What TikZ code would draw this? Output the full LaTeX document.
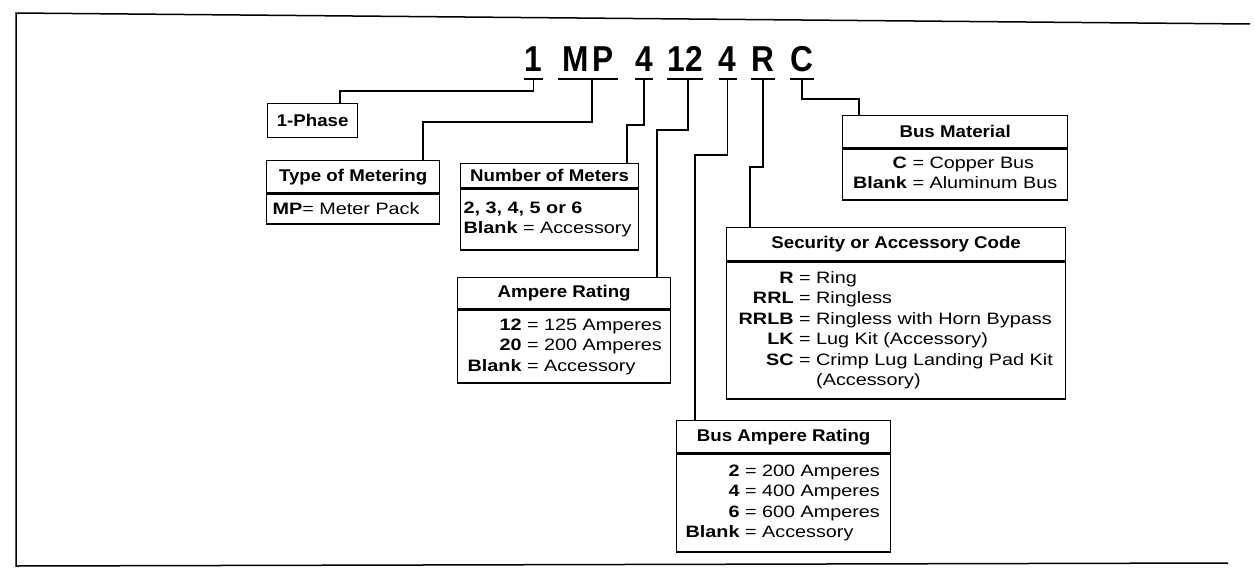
\documentclass[tikz,border=0pt]{standalone}
\usepackage{fontspec}
\setmainfont{Liberation Sans}
\newfontfamily\titlefont[FakeStretch=1.1]{Liberation Sans}
\newfontfamily\bodyfont[FakeStretch=1.2]{Liberation Sans}
\newfontfamily\codefont[FakeStretch=0.88]{Liberation Sans}
\begin{document}
\begin{tikzpicture}[x=1pt,y=-1pt,
  ttl/.style={draw,line width=1.3pt,inner sep=0pt,anchor=north west,
    font=\titlefont\fontsize{17}{20}\selectfont\bfseries},
  bdy/.style={draw,line width=1.3pt,inner ysep=0pt,anchor=north west,align=left,
    font=\bodyfont\fontsize{16.5}{20.5}\selectfont},
  codech/.style={font=\codefont\fontsize{36}{40}\selectfont\bfseries,
    inner xsep=0pt,inner ysep=7pt,anchor=south,text height=25pt,text depth=0pt},
  uline/.style={line width=2.2pt},
  conn/.style={line width=1.4pt},
  frame/.style={line width=1.5pt}]
\useasboundingbox (0,0) rectangle (1255,586);

% frame
\draw[frame] (1250,24) -- (16,13) -- (16,566) -- (1228,563);

% code characters
\node[codech,minimum width=17] (c1)  at (533.5,79) {1};
\node[codech,minimum width=60] (cMP) at (588,79) {M\hspace{4pt}P};
\node[codech,minimum width=18] (c4a) at (644,79) {4};
\node[codech,minimum width=34] (c12) at (685,79) {12};
\node[codech,minimum width=16] (c4b) at (727.5,79) {4};
\node[codech,minimum width=20] (cR)  at (763,79) {R};
\node[codech,minimum width=20] (cC)  at (802,79) {C};
\foreach \n in {c1,cMP,c4a,c12,c4b,cR,cC}
  \draw[uline] (\n.south west) -- (\n.south east);

% boxes
\node[ttl,minimum width=90,minimum height=34] (phase) at (267,103) {1-Phase};

\node[ttl,minimum width=173,minimum height=32] (tom) at (266,160) {Type of Metering};
\node[bdy,inner xsep=6pt,text width=161pt,minimum height=30] (tomb) at (tom.south west)
  {\textbf{MP}= Meter Pack};

\node[ttl,minimum width=178,minimum height=24] (nom) at (460,163) {Number of Meters};
\node[bdy,inner xsep=3pt,text width=172pt,minimum height=61] (nomb) at (nom.south west)
  {\textbf{2, 3, 4, 5 or 6}\\\textbf{Blank} = Accessory};

\node[ttl,minimum width=213,minimum height=31] (amp) at (457,277) {Ampere Rating};
\node[bdy,inner xsep=10pt,text width=193pt,minimum height=73] (ampb) at (amp.south west)
  {\begin{tabular}{@{}r@{\ }c@{\ }l@{}}
   \textbf{12} & = & 125 Amperes\\
   \textbf{20} & = & 200 Amperes\\
   \textbf{Blank} & = & Accessory
   \end{tabular}};

\node[ttl,minimum width=214,minimum height=32] (bam) at (676,420) {Bus Ampere Rating};
\node[bdy,inner xsep=9pt,text width=196pt,minimum height=98] (bamb) at (bam.south west)
  {\begin{tabular}{@{}r@{\ }c@{\ }l@{}}
   \textbf{2} & = & 200 Amperes\\
   \textbf{4} & = & 400 Amperes\\
   \textbf{6} & = & 600 Amperes\\
   \textbf{Blank} & = & Accessory
   \end{tabular}};

\node[ttl,minimum width=339,minimum height=33] (sec) at (726,227) {Security or Accessory Code};
\node[bdy,inner xsep=12pt,text width=315pt,minimum height=137] (secb) at (sec.south west)
  {\begin{tabular}{@{}r@{\ }c@{\ }l@{}}
   \textbf{R} & = & Ring\\
   \textbf{RRL} & = & Ringless\\
   \textbf{RRLB} & = & Ringless with Horn Bypass\\
   \textbf{LK} & = & Lug Kit (Accessory)\\
   \textbf{SC} & = & Crimp Lug Landing Pad Kit\\
    & & (Accessory)
   \end{tabular}};

\node[ttl,minimum width=225,minimum height=32] (bmat) at (842,115) {Bus Material};
\node[bdy,inner xsep=3pt,text width=219pt,align=center,minimum height=51] (bmatb) at (bmat.south west)
  {\begin{tabular}{@{}r@{\ }c@{\ }l@{}}
   \textbf{C} & = & Copper Bus\\
   \textbf{Blank} & = & Aluminum Bus
   \end{tabular}};

% connectors
\coordinate (j1) at (340,91);
\coordinate (j2) at (423,122);
\coordinate (j3) at (627,125);
\coordinate (j4) at (657,130);
\coordinate (j5) at (695,155);
\coordinate (j6) at (750,167);
\coordinate (j7) at (859,99);
\draw[conn] (c1.south) |- (j1) -- (j1 |- phase.north);
\draw[conn] ([xshift=4pt]cMP.south) |- (j2) -- (j2 |- tom.north);
\draw[conn] (c4a.south) |- (j3) -- (j3 |- nom.north);
\draw[conn] ([xshift=3pt]c12.south) |- (j4) -- (j4 |- amp.north);
\draw[conn] (c4b.south) |- (j5) -- (j5 |- bam.north);
\draw[conn] (cR.south) |- (j6) -- (j6 |- sec.north);
\draw[conn] (cC.south) |- (j7) -- (j7 |- bmat.north);
\end{tikzpicture}
\end{document}
